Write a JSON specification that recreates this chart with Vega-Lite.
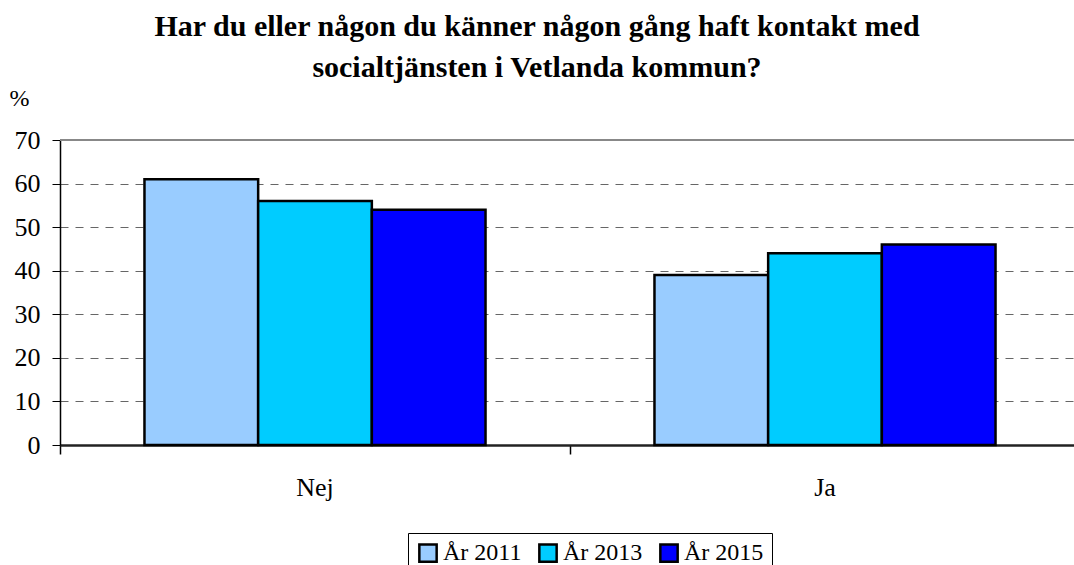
{
  "$schema": "https://vega.github.io/schema/vega-lite/v6.json",
  "autosize": {"type": "none"},
  "padding": {"left": 60, "top": 140, "right": 0, "bottom": 120},
  "width": 1020,
  "height": 305,
  "background": "white",
  "title": {
    "text": ["Har du eller någon du känner någon gång haft kontakt med", "socialtjänsten i Vetlanda kommun?"],
    "font": "'Liberation Serif', 'Times New Roman', serif",
    "fontSize": 30,
    "fontWeight": "bold",
    "color": "black",
    "lineHeight": 41,
    "anchor": "middle",
    "dx": -33,
    "offset": 3
  },
  "data": {
    "values": [
      {"svar": "Nej", "year": "År 2011", "value": 61},
      {"svar": "Nej", "year": "År 2013", "value": 56},
      {"svar": "Nej", "year": "År 2015", "value": 54},
      {"svar": "Ja", "year": "År 2011", "value": 39},
      {"svar": "Ja", "year": "År 2013", "value": 44},
      {"svar": "Ja", "year": "År 2015", "value": 46}
    ]
  },
  "config": {
    "view": {"stroke": null},
    "font": "'Liberation Serif', 'Times New Roman', serif"
  },
  "layer": [
    {
      "mark": {"type": "bar", "stroke": "black", "strokeWidth": 2.5},
      "encoding": {
        "x": {
          "field": "svar",
          "type": "nominal",
          "sort": ["Nej", "Ja"],
          "scale": {"paddingInner": 0, "paddingOuter": 0},
          "axis": {
            "title": null,
            "bandPosition": 0,
            "labelAngle": 0,
            "labelFont": "'Liberation Serif', 'Times New Roman', serif",
            "labelFontSize": 26,
            "labelColor": "black",
            "labelPadding": 20,
            "labelBaseline": "top",
            "ticks": true,
            "tickSize": 9,
            "tickColor": "black",
            "tickWidth": 1.5,
            "domainColor": "#222",
            "domainWidth": 2.5,
            "grid": false
          }
        },
        "xOffset": {
          "field": "year",
          "type": "nominal",
          "scale": {"paddingInner": 0, "paddingOuter": 0.743}
        },
        "y": {
          "field": "value",
          "type": "quantitative",
          "scale": {"domain": [0, 70], "nice": false},
          "axis": {
            "values": [0, 10, 20, 30, 40, 50, 60, 70],
            "title": "%",
            "titleAngle": 0,
            "titleFont": "'Liberation Serif', 'Times New Roman', serif",
            "titleFontSize": 24,
            "titleFontWeight": "normal",
            "titleColor": "black",
            "titleAlign": "left",
            "titleBaseline": "top",
            "titleX": -51,
            "titleY": -54,
            "labelFont": "'Liberation Serif', 'Times New Roman', serif",
            "labelFontSize": 26,
            "labelColor": "black",
            "labelPadding": 12,
            "tickSize": 8,
            "tickColor": "black",
            "domainColor": "black",
            "domainWidth": 1.5,
            "grid": true,
            "gridColor": "#666",
            "gridDash": [8, 7],
            "gridWidth": 1.2
          }
        },
        "fill": {
          "field": "year",
          "type": "nominal",
          "scale": {"domain": ["År 2011", "År 2013", "År 2015"], "range": ["#99CCFF", "#00CCFF", "#0000FF"]},
          "legend": {
            "title": null,
            "orient": "none",
            "direction": "horizontal",
            "legendX": 348,
            "legendY": 393,
            "strokeColor": "black",
            "padding": 8,
            "symbolType": "square",
            "symbolSize": 300,
            "symbolStrokeColor": "black",
            "symbolStrokeWidth": 2.5,
            "symbolOpacity": 1,
            "labelFont": "'Liberation Serif', 'Times New Roman', serif",
            "labelFontSize": 24,
            "labelColor": "black",
            "labelOffset": 3,
            "columnPadding": 12
          }
        }
      }
    },
    {
      "data": {"values": [{"v": 70}]},
      "mark": {"type": "rule", "color": "#888", "strokeWidth": 2},
      "encoding": {"y": {"field": "v", "type": "quantitative"}}
    }
  ]
}
